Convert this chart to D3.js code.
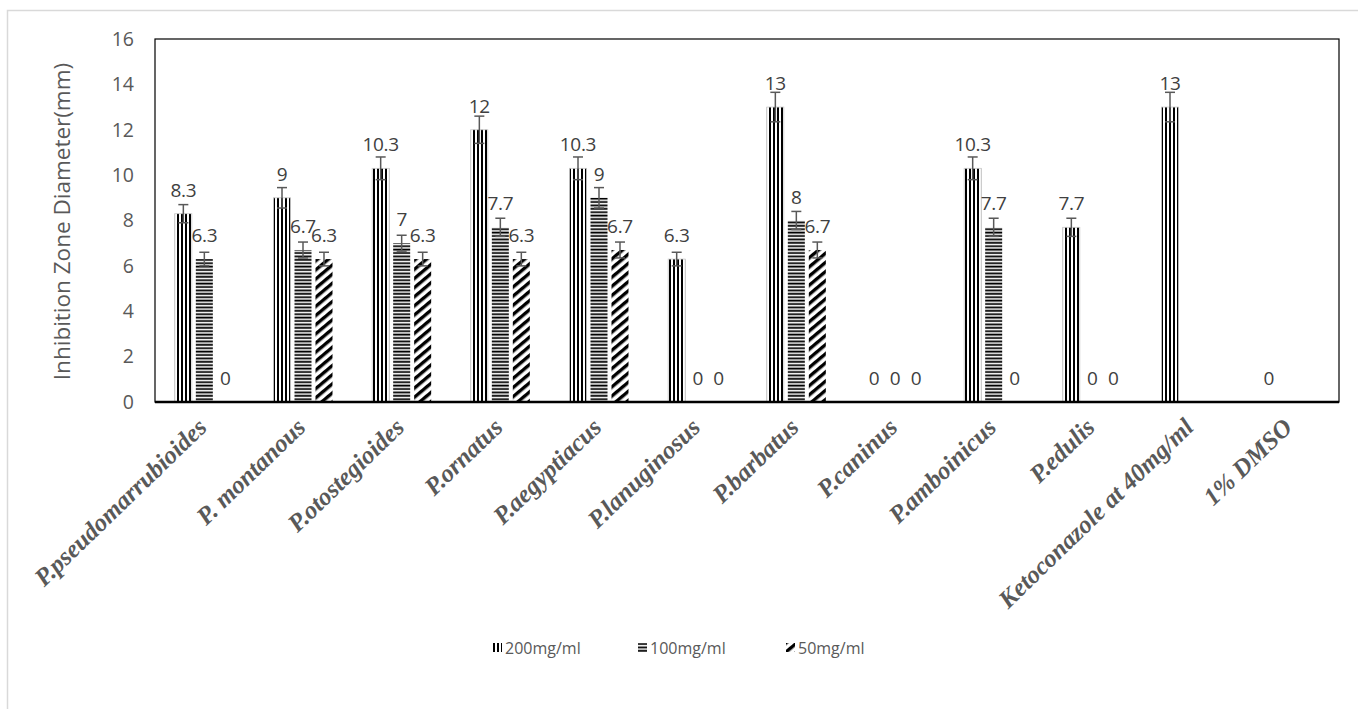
<!DOCTYPE html>
<html>
<head>
<meta charset="utf-8">
<script src="https://cdn.jsdelivr.net/npm/d3@7"></script>
<style>
  body { margin: 0; background: #fff; }
  svg { display: block; }
</style>
</head>
<body>
<div id="chart"></div>
<script>
const categories = ["P.pseudomarrubioides", "P. montanous", "P.otostegioides", "P.ornatus", "P.aegyptiacus",
  "P.lanuginosus", "P.barbatus", "P.caninus", "P.amboinicus", "P.edulis", "Ketoconazole at 40mg/ml", "1% DMSO"];
const seriesNames = ["200mg/ml", "100mg/ml", "50mg/ml"];
const values200 = [8.3, 9, 10.3, 12, 10.3, 6.3, 13, 0, 10.3, 7.7, 13, 0];
const values100 = [6.3, 6.7, 7, 7.7, 9, 0, 8, 0, 7.7, 0, null, null];
const values50 = [0, 6.3, 6.3, 6.3, 6.7, 0, 6.7, 0, 0, 0, null, null];
const errors200 = [0.4, 0.45, 0.5, 0.6, 0.5, 0.3, 0.65, 0, 0.5, 0.4, 0.65, 0];
const errors100 = [0.3, 0.35, 0.35, 0.4, 0.45, 0, 0.4, 0, 0.4, 0, 0, 0];
const errors50 = [0, 0.3, 0.3, 0.3, 0.35, 0, 0.35, 0, 0, 0, 0, 0];
const yTicks = [0, 2, 4, 6, 8, 10, 12, 14, 16];

const width = 1358, height = 709;
const plot = {left: 155, right: 1339, top: 39, bottom: 402};
const sans = "'Open Sans', 'Liberation Sans', sans-serif";

const svg = d3.select("#chart").append("svg")
  .attr("width", width)
  .attr("height", height);

// patterns
const defs = svg.append("defs");
const pv = defs.append("pattern").attr("id", "p200")
  .attr("patternUnits", "userSpaceOnUse").attr("width", 4).attr("height", 4);
pv.append("rect").attr("width", 4).attr("height", 4).attr("fill", "#fff");
pv.append("rect").attr("x", 1).attr("width", 2).attr("height", 4).attr("fill", "#000");

const ph = defs.append("pattern").attr("id", "p100")
  .attr("patternUnits", "userSpaceOnUse").attr("width", 4).attr("height", 3.4);
ph.append("rect").attr("width", 4).attr("height", 3.4).attr("fill", "#fff");
ph.append("rect").attr("y", 0.5).attr("width", 4).attr("height", 1.8).attr("fill", "#000");

const pd = defs.append("pattern").attr("id", "p50")
  .attr("patternUnits", "userSpaceOnUse").attr("width", 7).attr("height", 7)
  .attr("patternTransform", "rotate(50)");
pd.append("rect").attr("width", 7).attr("height", 7).attr("fill", "#fff");
pd.append("rect").attr("x", 2).attr("width", 3.4).attr("height", 7).attr("fill", "#000");

const fills = ["url(#p200)", "url(#p100)", "url(#p50)"];

// outer chart border
svg.append("rect")
  .attr("x", 7.5).attr("y", 10.5)
  .attr("width", width + 10).attr("height", height + 10)
  .attr("fill", "none").attr("stroke", "#d9d9d9").attr("stroke-width", 1.5);

const x0 = d3.scaleBand().domain(categories).range([plot.left, plot.right]).padding(0);
const x1 = d3.scaleBand().domain(seriesNames).range([0, x0.bandwidth()])
  .paddingInner(0.19).paddingOuter(0.945);
const y = d3.scaleLinear().domain([0, 16]).range([plot.bottom, plot.top]);

const seriesVals = [values200, values100, values50];
const seriesErr = [errors200, errors100, errors50];

const rows = [];
categories.forEach((c, i) => {
  seriesNames.forEach((s, j) => {
    const v = seriesVals[j][i];
    if (v === null) return;
    rows.push({cat: c, series: s, idx: j, value: v, err: seriesErr[j][i]});
  });
});

// plot frame
svg.append("rect")
  .attr("x", plot.left).attr("y", plot.top)
  .attr("width", plot.right - plot.left).attr("height", plot.bottom - plot.top)
  .attr("fill", "none").attr("stroke", "#000").attr("stroke-width", 1.2);

// bars
svg.append("g").selectAll("rect")
  .data(rows.filter(d => d.value > 0))
  .join("rect")
  .attr("x", d => x0(d.cat) + x1(d.series))
  .attr("y", d => y(d.value))
  .attr("width", x1.bandwidth())
  .attr("height", d => y(0) - y(d.value))
  .attr("fill", d => fills[d.idx])
  .attr("stroke", d => d.idx === 0 ? "#c8c8c8" : "none")
  .attr("stroke-width", 0.8);

// error bars
const eb = svg.append("g").attr("stroke", "#595959").attr("stroke-width", 1.5);
rows.filter(d => d.err > 0).forEach(d => {
  const cx = x0(d.cat) + x1(d.series) + x1.bandwidth() / 2;
  eb.append("line").attr("x1", cx).attr("x2", cx)
    .attr("y1", y(d.value + d.err)).attr("y2", y(d.value - d.err));
  [d.value + d.err, d.value - d.err].forEach(v => {
    eb.append("line").attr("x1", cx - 5).attr("x2", cx + 5)
      .attr("y1", y(v)).attr("y2", y(v));
  });
});

// value labels
svg.append("g").selectAll("text")
  .data(rows)
  .join("text")
  .attr("x", d => x0(d.cat) + x1(d.series) + x1.bandwidth() / 2)
  .attr("y", d => y(d.value) - 17)
  .attr("text-anchor", "middle")
  .attr("font-family", sans)
  .attr("font-size", 19)
  .attr("letter-spacing", -0.3)
  .attr("fill", "#404040")
  .text(d => d.value);

// x axis baseline
svg.append("line")
  .attr("x1", plot.left).attr("x2", plot.right)
  .attr("y1", y(0)).attr("y2", y(0))
  .attr("stroke", "#000").attr("stroke-width", 2.5);

// y axis
const yAxis = svg.append("g")
  .attr("transform", `translate(${plot.left},0)`)
  .call(d3.axisLeft(y).tickValues(yTicks).tickSize(0).tickPadding(21));
yAxis.select(".domain").remove();
yAxis.selectAll("text")
  .attr("font-family", sans)
  .attr("font-size", 19.5)
  .attr("fill", "#595959");

svg.append("text")
  .attr("transform", `translate(70,${(plot.top + plot.bottom) / 2 + 1}) rotate(-90)`)
  .attr("text-anchor", "middle")
  .attr("font-family", sans)
  .attr("font-size", 22.5)
  .attr("fill", "#595959")
  .text("Inhibition Zone Diameter(mm)");

// x category labels
svg.append("g").selectAll("text")
  .data(categories)
  .join("text")
  .attr("transform", d => `translate(${x0(d) + x0.bandwidth() / 2 + 4},${plot.bottom + 27}) rotate(-44)`)
  .attr("text-anchor", "end")
  .attr("font-family", "'Liberation Serif', 'Times New Roman', serif")
  .attr("font-style", "italic")
  .attr("font-weight", "bold")
  .attr("font-size", 25)
  .attr("fill", "#595959")
  .text(d => d);

// legend
const legendItems = [
  {name: seriesNames[0], x: 493},
  {name: seriesNames[1], x: 638},
  {name: seriesNames[2], x: 786}
];
const lg = svg.append("g");
legendItems.forEach((it, i) => {
  lg.append("rect")
    .attr("x", it.x).attr("y", 643)
    .attr("width", 9).attr("height", 9)
    .attr("fill", fills[i]);
  lg.append("text")
    .attr("x", it.x + 12).attr("y", 654)
    .attr("font-family", sans)
    .attr("font-size", 16)
    .attr("fill", "#595959")
    .text(it.name);
});
</script>
</body>
</html>
